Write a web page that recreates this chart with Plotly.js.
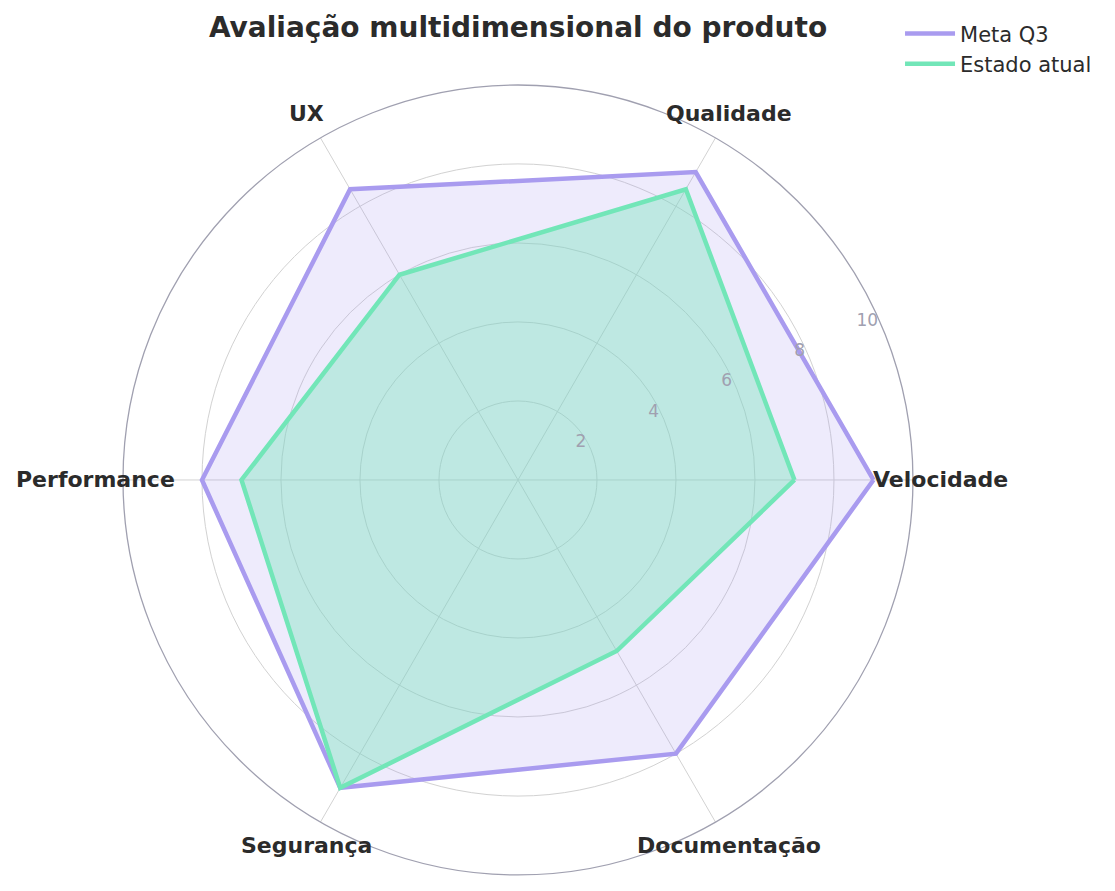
<!DOCTYPE html>
<html>
<head>
<meta charset="utf-8">
<script src="https://cdn.plot.ly/plotly-3.0.1.min.js"></script>
<style>
  html, body { margin: 0; padding: 0; background: #ffffff; }
  #chart { width: 1115px; height: 891px; }
</style>
</head>
<body>
<div id="chart"></div>
<script>
var categories = ['Velocidade', 'Qualidade', 'UX', 'Performance', 'Segurança', 'Documentação'];
var metaQ3 = [9, 9, 8.5, 8, 9, 8];
var estadoAtual = [7, 8.5, 6, 7, 9, 5];
var radialTicks = [2, 4, 6, 8, 10];
var labelRadius = 10.7;

var W = 1115, H = 891;
var domainX = [0.1103, 0.8188];
var domainY = [0.018, 0.9046];
var rMax = 10;

var purple = '#a99bef';
var green = '#72e6b8';
var font = 'DejaVu Sans, sans-serif';

function closed(arr) {
    return arr.concat([arr[0]]);
}

var fillMeta = {
    type: 'scatterpolar',
    r: closed(metaQ3),
    theta: closed(categories),
    mode: 'lines',
    fill: 'toself',
    fillcolor: 'rgba(169,155,239,0.2)',
    line: { width: 0, color: purple },
    showlegend: false,
    hoverinfo: 'skip'
};

var fillAtual = {
    type: 'scatterpolar',
    r: closed(estadoAtual),
    theta: closed(categories),
    mode: 'lines',
    fill: 'toself',
    fillcolor: 'rgba(114,230,184,0.38)',
    line: { width: 0, color: green },
    showlegend: false,
    hoverinfo: 'skip'
};

var lineMeta = {
    type: 'scatterpolar',
    name: 'Meta Q3',
    r: closed(metaQ3),
    theta: closed(categories),
    mode: 'lines',
    line: { width: 4.5, color: purple }
};

var lineAtual = {
    type: 'scatterpolar',
    name: 'Estado atual',
    r: closed(estadoAtual),
    theta: closed(categories),
    mode: 'lines',
    line: { width: 4.5, color: green }
};

var data = [fillMeta, fillAtual, lineMeta, lineAtual];

// category labels sit just outside the outer ring (same geometry as the polar domain)
var cx = (domainX[0] + domainX[1]) / 2 * W;
var cy = (1 - (domainY[0] + domainY[1]) / 2) * H;
var R = (domainX[1] - domainX[0]) * W / 2;
var annotations = categories.map(function (c, i) {
    var a = i * 2 * Math.PI / categories.length;
    var rr = R * labelRadius / rMax;
    return {
        text: '<b>' + c + '</b>',
        xref: 'paper', yref: 'paper',
        x: (cx + rr * Math.cos(a)) / W,
        y: 1 - (cy - rr * Math.sin(a)) / H,
        xanchor: 'center', yanchor: 'middle',
        showarrow: false,
        font: { family: font, size: 22, color: '#2b2b2b' }
    };
});

var layout = {
    width: W,
    height: H,
    paper_bgcolor: '#ffffff',
    margin: { l: 0, r: 0, t: 0, b: 0 },
    font: { family: font, color: '#2b2b2b' },
    title: {
        text: '<b>Avaliação multidimensional do produto</b>',
        font: { family: font, size: 28, color: '#2b2b2b' },
        x: 0.4646,
        xanchor: 'center',
        xref: 'paper',
        y: 0.969,
        yanchor: 'middle'
    },
    annotations: annotations,
    polar: {
        domain: { x: domainX, y: domainY },
        bgcolor: 'rgba(0,0,0,0)',
        radialaxis: {
            range: [0, rMax],
            tickvals: radialTicks,
            angle: 22.5,
            side: 'counterclockwise',
            tickangle: 22.5,
            showline: false,
            ticks: '',
            gridcolor: '#d2d2d2',
            gridwidth: 1,
            tickfont: { family: font, size: 17, color: '#a0a0b0' }
        },
        angularaxis: {
            direction: 'counterclockwise',
            rotation: 0,
            showticklabels: false,
            ticks: '',
            gridcolor: '#d2d2d2',
            gridwidth: 1,
            showline: true,
            linecolor: '#a0a0b0',
            linewidth: 1.3
        }
    },
    legend: {
        x: 0.8072,
        y: 0.985,
        xanchor: 'left',
        yanchor: 'top',
        itemwidth: 50,
        font: { family: font, size: 21, color: '#2b2b2b' },
        bgcolor: 'rgba(255,255,255,0)',
        tracegroupgap: 4
    }
};

Plotly.newPlot('chart', data, layout, { displayModeBar: false, staticPlot: true });
</script>
</body>
</html>
